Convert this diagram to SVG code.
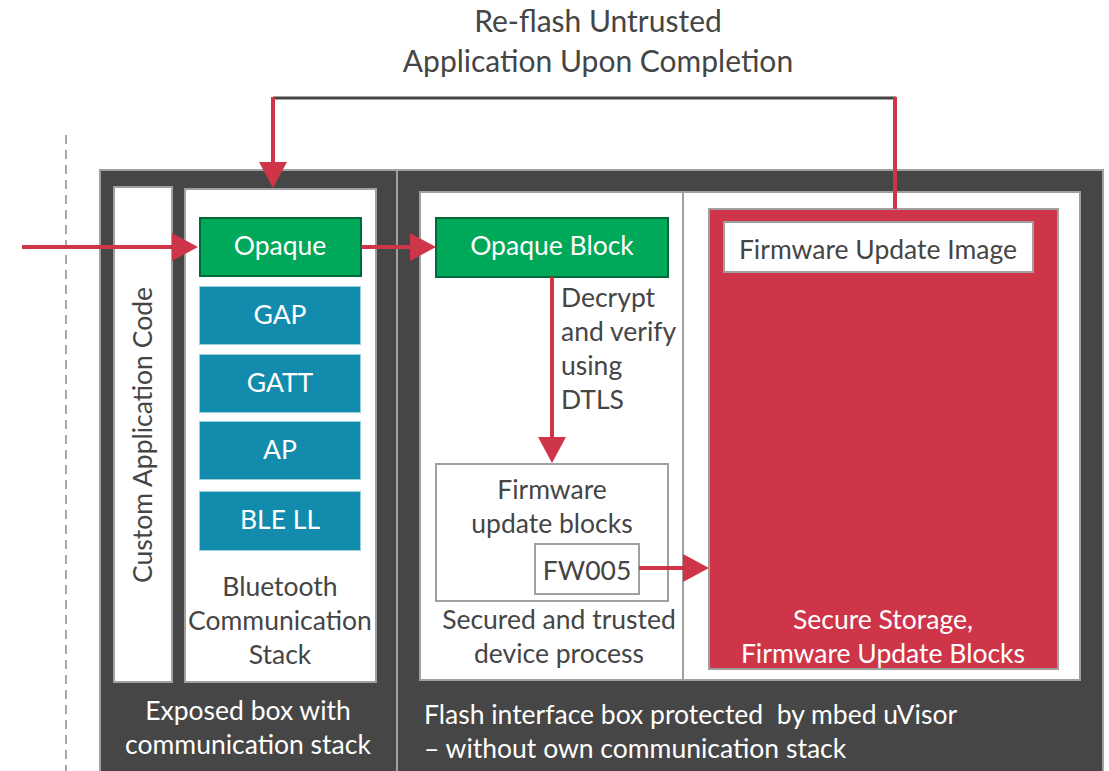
<svg xmlns="http://www.w3.org/2000/svg" width="1109" height="771" viewBox="0 0 1109 771">
<defs>
<style>
text{font-family:Lato,"Open Sans","DejaVu Sans",sans-serif;}
.t{font-size:26.5px;fill:#454545;}
.w{font-size:26.5px;fill:#ffffff;}
.mid{text-anchor:middle;}
.dark{fill:#464646;stroke:#a0a0a0;stroke-width:2;}
.white{fill:#ffffff;stroke:#a0a0a0;stroke-width:2;}
.green{fill:#00a85a;stroke:#006b3a;stroke-width:2;}
.teal{fill:#138bac;stroke:#9ccfdc;stroke-width:1;}
.red{fill:#cf3549;stroke:#a0a0a0;stroke-width:2;}
.wire{stroke:#cf3549;stroke-width:4;fill:none;}
</style>
<marker id="ah" viewBox="0 0 26 28" refX="0" refY="14" markerWidth="26" markerHeight="28" markerUnits="userSpaceOnUse" orient="auto">
<polygon points="0,0 26,14 0,28" fill="#cf3549"/>
</marker>
</defs>
<rect width="1109" height="771" fill="#ffffff"/>

<g id="title">
<text class="t mid" x="598" y="32" style="font-size:30px">Re-flash Untrusted</text>
<text class="t mid" x="598" y="72" style="font-size:30px">Application Upon Completion</text>
</g>

<line x1="66" y1="135" x2="66" y2="771" stroke="#a8a8a8" stroke-width="2" stroke-dasharray="9,6"/>

<g id="exposed-box">
<rect class="dark" x="100" y="170" width="297" height="620"/>
<text class="w mid" x="248" y="720">Exposed box with</text>
<text class="w mid" x="248" y="754">communication stack</text>
</g>

<g id="flash-box">
<rect class="dark" x="397" y="170" width="706" height="620"/>
<rect class="white" x="420" y="192" width="660" height="488"/>
<line x1="683" y1="192" x2="683" y2="680" stroke="#a0a0a0" stroke-width="2"/>
<text class="w" x="424" y="724" xml:space="preserve">Flash interface box protected  by mbed uVisor</text>
<text class="w" x="424" y="758">– without own communication stack</text>
</g>

<g id="custom-app">
<rect class="white" x="114" y="187" width="58" height="495"/>
<text class="t mid" transform="translate(152,435) rotate(-90)" x="0" y="0">Custom Application Code</text>
</g>

<g id="bt-stack">
<rect class="white" x="185" y="189" width="191" height="493"/>
<text class="t mid" x="280" y="596">Bluetooth</text>
<text class="t mid" x="280" y="630">Communication</text>
<text class="t mid" x="280" y="664">Stack</text>
</g>

<g id="opaque">
<rect class="green" x="200" y="218" width="161" height="58"/>
<text class="w mid" x="280" y="255">Opaque</text>
</g>
<g id="gap">
<rect class="teal" x="199.5" y="286.5" width="161" height="58"/>
<text class="w mid" x="280" y="324">GAP</text>
</g>
<g id="gatt">
<rect class="teal" x="199.5" y="354.5" width="161" height="58"/>
<text class="w mid" x="280" y="392">GATT</text>
</g>
<g id="ap">
<rect class="teal" x="199.5" y="421.5" width="161" height="58"/>
<text class="w mid" x="280" y="459">AP</text>
</g>
<g id="ble-ll">
<rect class="teal" x="199.5" y="491.5" width="161" height="59"/>
<text class="w mid" x="280" y="529">BLE LL</text>
</g>

<g id="opaque-block">
<rect class="green" x="436" y="218" width="232" height="59"/>
<text class="w mid" x="552" y="255">Opaque Block</text>
</g>

<g id="decrypt-label">
<text class="t" x="561" y="307">Decrypt</text>
<text class="t" x="561" y="341">and verify</text>
<text class="t" x="561" y="375">using</text>
<text class="t" x="561" y="409">DTLS</text>
</g>

<g id="fw-blocks">
<rect class="white" x="436" y="464" width="232" height="137"/>
<text class="t mid" x="552" y="499">Firmware</text>
<text class="t mid" x="552" y="533">update blocks</text>
</g>
<g id="fw005">
<rect class="white" x="535" y="544" width="104" height="50"/>
<text class="t mid" x="587" y="580">FW005</text>
</g>

<g id="secured-label">
<text class="t mid" x="559" y="629">Secured and trusted</text>
<text class="t mid" x="559" y="663">device process</text>
</g>

<g id="secure-storage">
<rect class="red" x="709" y="209" width="349" height="460"/>
<text class="w mid" x="883" y="629">Secure Storage,</text>
<text class="w mid" x="883" y="663">Firmware Update Blocks</text>
</g>
<g id="fw-image">
<rect class="white" x="724" y="222" width="309" height="50"/>
<text class="t mid" x="878" y="259">Firmware Update Image</text>
</g>

<g id="connectors">
<line x1="22" y1="247" x2="172" y2="247" class="wire" marker-end="url(#ah)"/>
<line x1="361" y1="247" x2="410" y2="247" class="wire" marker-end="url(#ah)"/>
<line x1="552" y1="277" x2="552" y2="437" class="wire" marker-end="url(#ah)"/>
<line x1="639" y1="568" x2="683" y2="568" class="wire" marker-end="url(#ah)"/>
<line x1="273" y1="98" x2="896" y2="98" stroke="#454545" stroke-width="3"/>
<line x1="895" y1="97" x2="895" y2="209" class="wire"/>
<line x1="273" y1="97" x2="273" y2="162" class="wire" marker-end="url(#ah)"/>
</g>
</svg>
